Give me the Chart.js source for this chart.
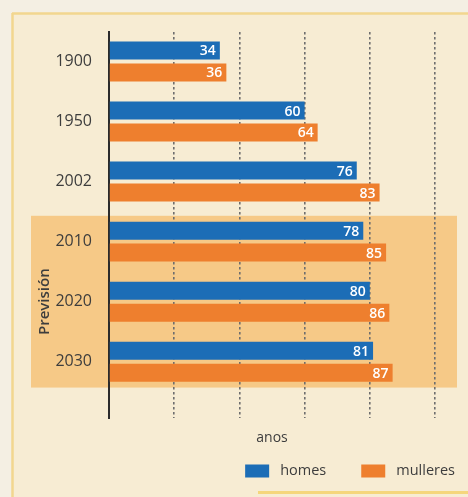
<!DOCTYPE html>
<html><head><meta charset="utf-8">
<script src="https://cdn.jsdelivr.net/npm/chart.js@4.4.1/dist/chart.umd.min.js"></script>
<style>html,body{margin:0;padding:0;background:#f4efe3;}#wrap{width:468px;height:497px;}</style>
</head><body><div id="wrap"><canvas id="c" width="468" height="497"></canvas></div>
<script>
const categories = ['1900', '1950', '2002', '2010', '2020', '2030'];
const homes = [34, 60, 76, 78, 80, 81];
const mulleres = [36, 64, 83, 85, 86, 87];
const xTicks = [0, 20, 40, 60, 80, 100];
const seriesNames = ['homes', 'mulleres'];
const forecastStart = 3;   // index of '2010'
const forecastEnd = 5;     // index of '2030'
const forecastLabel = 'Previsión';
const axisTitle = 'anos';

const BLUE = '#1c6db6';
const ORANGE = '#ee7f2e';
const TEXT = '#3d3d3d';
const FONT = "'Open Sans', sans-serif";

Chart.defaults.font.family = FONT;
Chart.defaults.color = TEXT;

const bgPlugin = {
  id: 'bg',
  beforeDraw(chart) {
    const {ctx, width, height, chartArea: ca, scales} = chart;
    ctx.save();
    ctx.fillStyle = '#f4efe3';
    ctx.fillRect(0, 0, width, height);
    ctx.fillStyle = '#f7ecd3';
    ctx.fillRect(12, 13, width - 12, height - 13);
    ctx.strokeStyle = '#f2d68f';
    ctx.lineWidth = 2.5;
    ctx.beginPath();
    ctx.moveTo(12, 13.5); ctx.lineTo(width, 13.5);
    ctx.moveTo(12.5, 13); ctx.lineTo(12.5, height);
    ctx.stroke();
    const y = scales.y;
    const top = y.getPixelForValue(forecastStart - 0.43);
    const bot = y.getPixelForValue(forecastEnd + 0.43);
    ctx.fillStyle = '#f6c987';
    ctx.fillRect(ca.left - 78, top, (ca.right + 22) - (ca.left - 78), bot - top);
    ctx.fillStyle = '#f5d67c';
    ctx.fillRect(258, height - 6, width - 258, 3);
    ctx.restore();
  }
};

const valuePlugin = {
  id: 'values',
  afterDatasetsDraw(chart) {
    const {ctx} = chart;
    ctx.save();
    ctx.font = "600 14px " + FONT;
    ctx.fillStyle = '#ffffff';
    ctx.textAlign = 'right';
    ctx.textBaseline = 'middle';
    chart.data.datasets.forEach((ds, di) => {
      const meta = chart.getDatasetMeta(di);
      meta.data.forEach((el, i) => {
        ctx.fillText(String(ds.data[i].x), el.x - 4, el.y + 1);
      });
    });
    ctx.restore();
  }
};

const extraText = {
  id: 'extraText',
  afterDraw(chart) {
    const {ctx, chartArea: ca, scales, height} = chart;
    ctx.save();
    const yc = scales.y.getPixelForValue(4);
    ctx.translate(ca.left - 64, yc);
    ctx.rotate(-Math.PI / 2);
    ctx.font = "600 15px " + FONT;
    ctx.fillStyle = TEXT;
    ctx.textAlign = 'center';
    ctx.textBaseline = 'middle';
    ctx.fillText(forecastLabel, 0, 0);
    ctx.restore();

    ctx.save();
    ctx.font = "14.5px " + FONT;
    ctx.textBaseline = 'middle';
    ctx.textAlign = 'left';
    const colors = [BLUE, ORANGE];
    const boxW = 24, boxH = 13, gapText = 11, gapItem = 35;
    const widths = seriesNames.map(n => ctx.measureText(n).width);
    let total = 0;
    widths.forEach((w, i) => { total += boxW + gapText + w + (i < widths.length - 1 ? gapItem : 0); });
    let x = chart.width - 13 - total;
    const ly = height - 26;
    seriesNames.forEach((n, i) => {
      ctx.fillStyle = colors[i];
      ctx.fillRect(x, ly - boxH / 2, boxW, boxH);
      x += boxW + gapText;
      ctx.fillStyle = TEXT;
      ctx.fillText(n, x, ly);
      x += widths[i] + gapItem;
    });
    ctx.restore();
  }
};

new Chart(document.getElementById('c'), {
  type: 'bar',
  data: {
    datasets: [
      { label: seriesNames[0], data: homes.map((v, i) => ({x: v, y: i})), backgroundColor: BLUE,
        categoryPercentage: 0.73, barPercentage: 0.82 },
      { label: seriesNames[1], data: mulleres.map((v, i) => ({x: v, y: i})), backgroundColor: ORANGE,
        categoryPercentage: 0.73, barPercentage: 0.82 }
    ]
  },
  options: {
    indexAxis: 'y',
    responsive: false,
    animation: false,
    devicePixelRatio: 1,
    layout: { padding: { top: 32, left: 0, right: 33, bottom: 47 } },
    plugins: { legend: { display: false }, tooltip: { enabled: false } },
    scales: {
      x: {
        type: 'linear', position: 'bottom', min: 0, max: 100,
        afterBuildTicks: s => { s.ticks = xTicks.map(v => ({value: v})); },
        ticks: { display: false },
        grid: { drawTicks: false, lineWidth: 1.6,
          color: c => (c.tick && c.tick.value === 0) ? 'rgba(0,0,0,0)' : '#6e6e6e' },
        border: { display: false, dash: [2.5, 2.5] },
        title: { display: true, text: axisTitle, color: TEXT, font: { size: 14 }, padding: { top: 11, bottom: 4 } }
      },
      y: {
        type: 'linear', reverse: true, min: -0.49, max: 5.94, offset: false,
        afterBuildTicks: s => { s.ticks = categories.map((c, i) => ({value: i})); },
        afterFit: s => { s.width = 109; },
        ticks: { callback: v => categories[v], font: { size: 16 }, color: TEXT, padding: 9 },
        grid: { display: false, offset: false },
        border: { display: true, color: '#2b2b2b', width: 2 }
      }
    }
  },
  plugins: [bgPlugin, valuePlugin, extraText]
});
</script>
</body></html>
